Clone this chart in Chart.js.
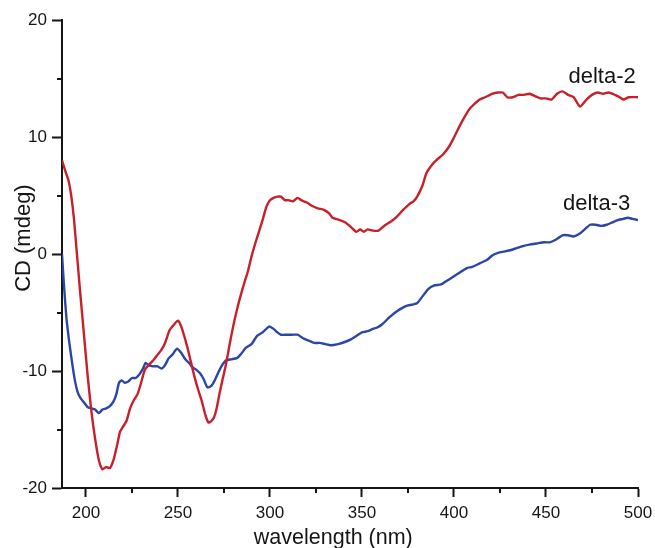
<!DOCTYPE html>
<html>
<head>
<meta charset="utf-8">
<script src="https://cdn.jsdelivr.net/npm/chart.js@4.4.1/dist/chart.umd.min.js"></script>
<style>
    html, body { margin: 0; padding: 0; background: #fff; }
    #wrap { width: 655px; height: 548px; }
</style>
</head>
<body>
<div id="wrap"><canvas id="chart" width="655" height="548"></canvas></div>
<script>
// wavelength (nm) / CD (mdeg)
const delta2_nm = [187, 189, 190.5, 192, 193.5, 195, 197, 199, 201, 203, 205, 207, 209, 211, 213, 215, 217, 218.5, 220, 222,
    224, 226, 228, 230, 232, 234, 236.5, 239, 241, 243, 245.5, 248, 250, 252, 255, 257, 259, 261, 263, 265,
    266.5, 268, 269.5, 271, 272.5, 274, 276, 278, 280, 282, 284, 286, 288, 290, 292, 294, 296, 298, 300, 302,
    304, 306, 308, 310, 312.5, 315, 317, 320, 323, 326, 329, 332, 334, 338, 341, 344, 347, 349, 351, 353,
    356, 359, 362, 366, 369, 372, 376, 378, 380, 383, 385, 388, 391, 394, 397, 399.5, 402, 405, 408, 411,
    414, 417, 421, 424, 426.5, 429, 432, 435, 438, 441, 444, 447, 450, 453, 456, 459, 462, 465, 468.5, 472,
    475, 478, 481, 484, 487.5, 490, 492, 495, 500];
const delta2_cd = [8.0, 7.0, 6.3, 5.0, 3.0, 0.2, -3.5, -7.0, -10.5, -13.5, -15.8, -17.6, -18.4, -18.2, -18.3, -17.6, -16.3, -15.2, -14.8, -14.3,
    -13.2, -12.5, -12.0, -11.0, -9.9, -9.5, -9.1, -8.6, -8.2, -7.6, -6.5, -6.0, -5.7, -6.3, -7.9, -9.2, -10.5, -11.6, -12.6, -13.8,
    -14.4, -14.3, -14.0, -13.2, -12.0, -10.9, -9.5, -7.8, -6.2, -4.8, -3.6, -2.5, -1.5, -0.2, 0.9, 1.9, 2.9, 4.0, 4.6, 4.8,
    4.9, 4.9, 4.6, 4.6, 4.5, 4.8, 4.6, 4.4, 4.1, 3.9, 3.8, 3.5, 3.1, 2.9, 2.7, 2.3, 1.9, 2.1, 1.9, 2.1,
    2.0, 2.0, 2.4, 2.8, 3.2, 3.7, 4.3, 4.5, 4.9, 5.9, 6.9, 7.6, 8.1, 8.5, 9.1, 9.8, 10.6, 11.5, 12.3, 12.8,
    13.2, 13.4, 13.7, 13.8, 13.8, 13.4, 13.4, 13.6, 13.6, 13.7, 13.5, 13.3, 13.3, 13.2, 13.7, 13.9, 13.6, 13.4, 12.6, 13.2,
    13.6, 13.8, 13.7, 13.8, 13.6, 13.4, 13.2, 13.4, 13.4];

const delta3_nm = [187, 188, 189.5, 191, 192.5, 194, 195.5, 197, 199, 201, 203, 205, 207, 209, 211, 213, 215, 216.5, 218, 219.5,
    221, 223, 225, 227, 229, 231, 232.5, 234, 236.5, 239, 241, 243, 245, 247, 249.5, 252, 254, 256, 258, 260,
    262, 264, 266, 268, 270, 272, 274, 276, 279, 282, 284, 287, 290, 293, 296, 299.5, 302, 304, 306, 309,
    312, 315, 318, 321, 324, 327, 330, 333, 337, 341, 344, 347, 350, 353, 356, 358, 361, 365, 369, 372,
    375, 378, 380, 383, 386, 389, 393, 396, 399, 403, 407, 410, 414, 418, 421, 424, 427, 430, 434, 438,
    441, 445, 449, 452, 455, 459, 462, 465, 468, 471, 474, 477, 480, 483, 486, 489, 492, 494.5, 497, 500];
const delta3_cd = [0.0, -2.5, -5.6, -7.6, -9.3, -10.8, -11.8, -12.3, -12.7, -13.1, -13.2, -13.3, -13.6, -13.3, -13.2, -13.0, -12.6, -12.0, -11.0, -10.8,
    -11.0, -10.9, -10.6, -10.6, -10.3, -9.8, -9.3, -9.5, -9.6, -9.6, -9.8, -9.5, -8.9, -8.6, -8.1, -8.5, -9.0, -9.3, -9.7, -9.9,
    -10.2, -10.7, -11.4, -11.3, -10.8, -10.1, -9.5, -9.1, -9.0, -8.9, -8.6, -8.0, -7.7, -7.0, -6.7, -6.2, -6.4, -6.7, -6.9, -6.9,
    -6.9, -6.9, -7.2, -7.4, -7.6, -7.6, -7.7, -7.8, -7.7, -7.5, -7.3, -7.0, -6.7, -6.6, -6.4, -6.3, -6.0, -5.4, -4.9, -4.6,
    -4.4, -4.3, -4.2, -3.6, -3.0, -2.7, -2.6, -2.3, -2.0, -1.6, -1.2, -1.1, -0.8, -0.5, -0.1, 0.1, 0.2, 0.3, 0.5, 0.7,
    0.8, 0.9, 1.0, 1.0, 1.2, 1.6, 1.6, 1.5, 1.7, 2.1, 2.5, 2.5, 2.4, 2.5, 2.7, 2.9, 3.0, 3.1, 3.0, 2.9];

const x_ticks = [200, 250, 300, 350, 400, 450, 500];
const x_minor = [225, 275, 325, 375, 425, 475];
const y_ticks = [-20, -10, 0, 10, 20];
const y_minor = [-15, -5, 5, 15];

// curve names, placed at (nm, mdeg) like the figure does
const series_labels = [
    {text: 'delta-2', x: 480.5, y: 14.6},
    {text: 'delta-3', x: 477.5, y: 3.8}
];
const x_title = 'wavelength (nm)';
const y_title = 'CD (mdeg)';

const FONT = "'Liberation Sans', Arial, sans-serif";
const INK = '#151515';

function points(xs, ys) {
    return xs.map((x, i) => ({x: x, y: ys[i]}));
}

// short outward minor ticks, axis titles (set off-centre as in the figure) and curve names
const extras = {
    id: 'extras',
    afterDraw(chart) {
        let ctx = chart.ctx;
        let xs = chart.scales.x;
        let ys = chart.scales.y;
        ctx.save();
        ctx.strokeStyle = INK;
        ctx.lineWidth = 2;
        ctx.beginPath();
        for (let v of x_minor) {
            let px = Math.round(xs.getPixelForValue(v));
            ctx.moveTo(px, xs.top);
            ctx.lineTo(px, xs.top + 5);
        }
        for (let v of y_minor) {
            let py = Math.round(ys.getPixelForValue(v));
            ctx.moveTo(ys.right, py);
            ctx.lineTo(ys.right - 5, py);
        }
        ctx.stroke();

        ctx.fillStyle = INK;
        ctx.font = "22px " + FONT;
        ctx.textAlign = 'center';
        ctx.textBaseline = 'alphabetic';
        for (let lab of series_labels) {
            ctx.fillText(lab.text, xs.getPixelForValue(lab.x), ys.getPixelForValue(lab.y));
        }

        ctx.font = "21.5px " + FONT;
        ctx.fillText(x_title, xs.left + xs.width * 0.471, xs.bottom - 4);

        ctx.font = "22px " + FONT;
        ctx.translate(ys.left + 30, ys.top + ys.height * 0.466);
        ctx.rotate(-Math.PI / 2);
        ctx.fillText(y_title, 0, 0);
        ctx.restore();
    }
};

let canvas = document.getElementById('chart');
let chart = new Chart(canvas, {
    type: 'line',
    data: {
        datasets: [
            {
                label: 'delta-2',
                data: points(delta2_nm, delta2_cd),
                borderColor: '#c8202a',
                borderWidth: 2.4,
                pointRadius: 0,
                tension: 0.2
            },
            {
                label: 'delta-3',
                data: points(delta3_nm, delta3_cd),
                borderColor: '#2b46a6',
                borderWidth: 2.4,
                pointRadius: 0,
                tension: 0.2
            }
        ]
    },
    options: {
        responsive: false,
        animation: false,
        layout: {
            padding: {top: 20, right: 17, left: 0, bottom: 0}
        },
        plugins: {
            legend: {display: false},
            tooltip: {enabled: false}
        },
        scales: {
            x: {
                type: 'linear',
                min: 187,
                max: 500,
                afterBuildTicks: (scale) => { scale.ticks = x_ticks.map((v) => ({value: v})); },
                afterFit: (scale) => {
                    scale.height = 60;
                    scale.paddingLeft = 0;
                    scale.paddingRight = 0;
                },
                ticks: {
                    font: {size: 17, family: FONT},
                    color: INK,
                    padding: 6,
                    maxRotation: 0,
                    autoSkip: false
                },
                grid: {
                    drawOnChartArea: false,
                    drawTicks: true,
                    tickLength: 9,
                    tickWidth: 2,
                    tickColor: INK
                },
                border: {display: true, color: INK, width: 2}
            },
            y: {
                type: 'linear',
                min: -20,
                max: 20,
                afterBuildTicks: (scale) => { scale.ticks = y_ticks.map((v) => ({value: v})); },
                afterFit: (scale) => {
                    scale.width = 62;
                    scale.paddingTop = 0;
                    scale.paddingBottom = 0;
                },
                ticks: {
                    font: {size: 17, family: FONT},
                    color: INK,
                    padding: 5
                },
                grid: {
                    drawOnChartArea: false,
                    drawTicks: true,
                    tickLength: 10,
                    tickWidth: 2,
                    tickColor: INK
                },
                border: {display: true, color: INK, width: 2}
            }
        }
    },
    plugins: [extras]
});
</script>
</body>
</html>
